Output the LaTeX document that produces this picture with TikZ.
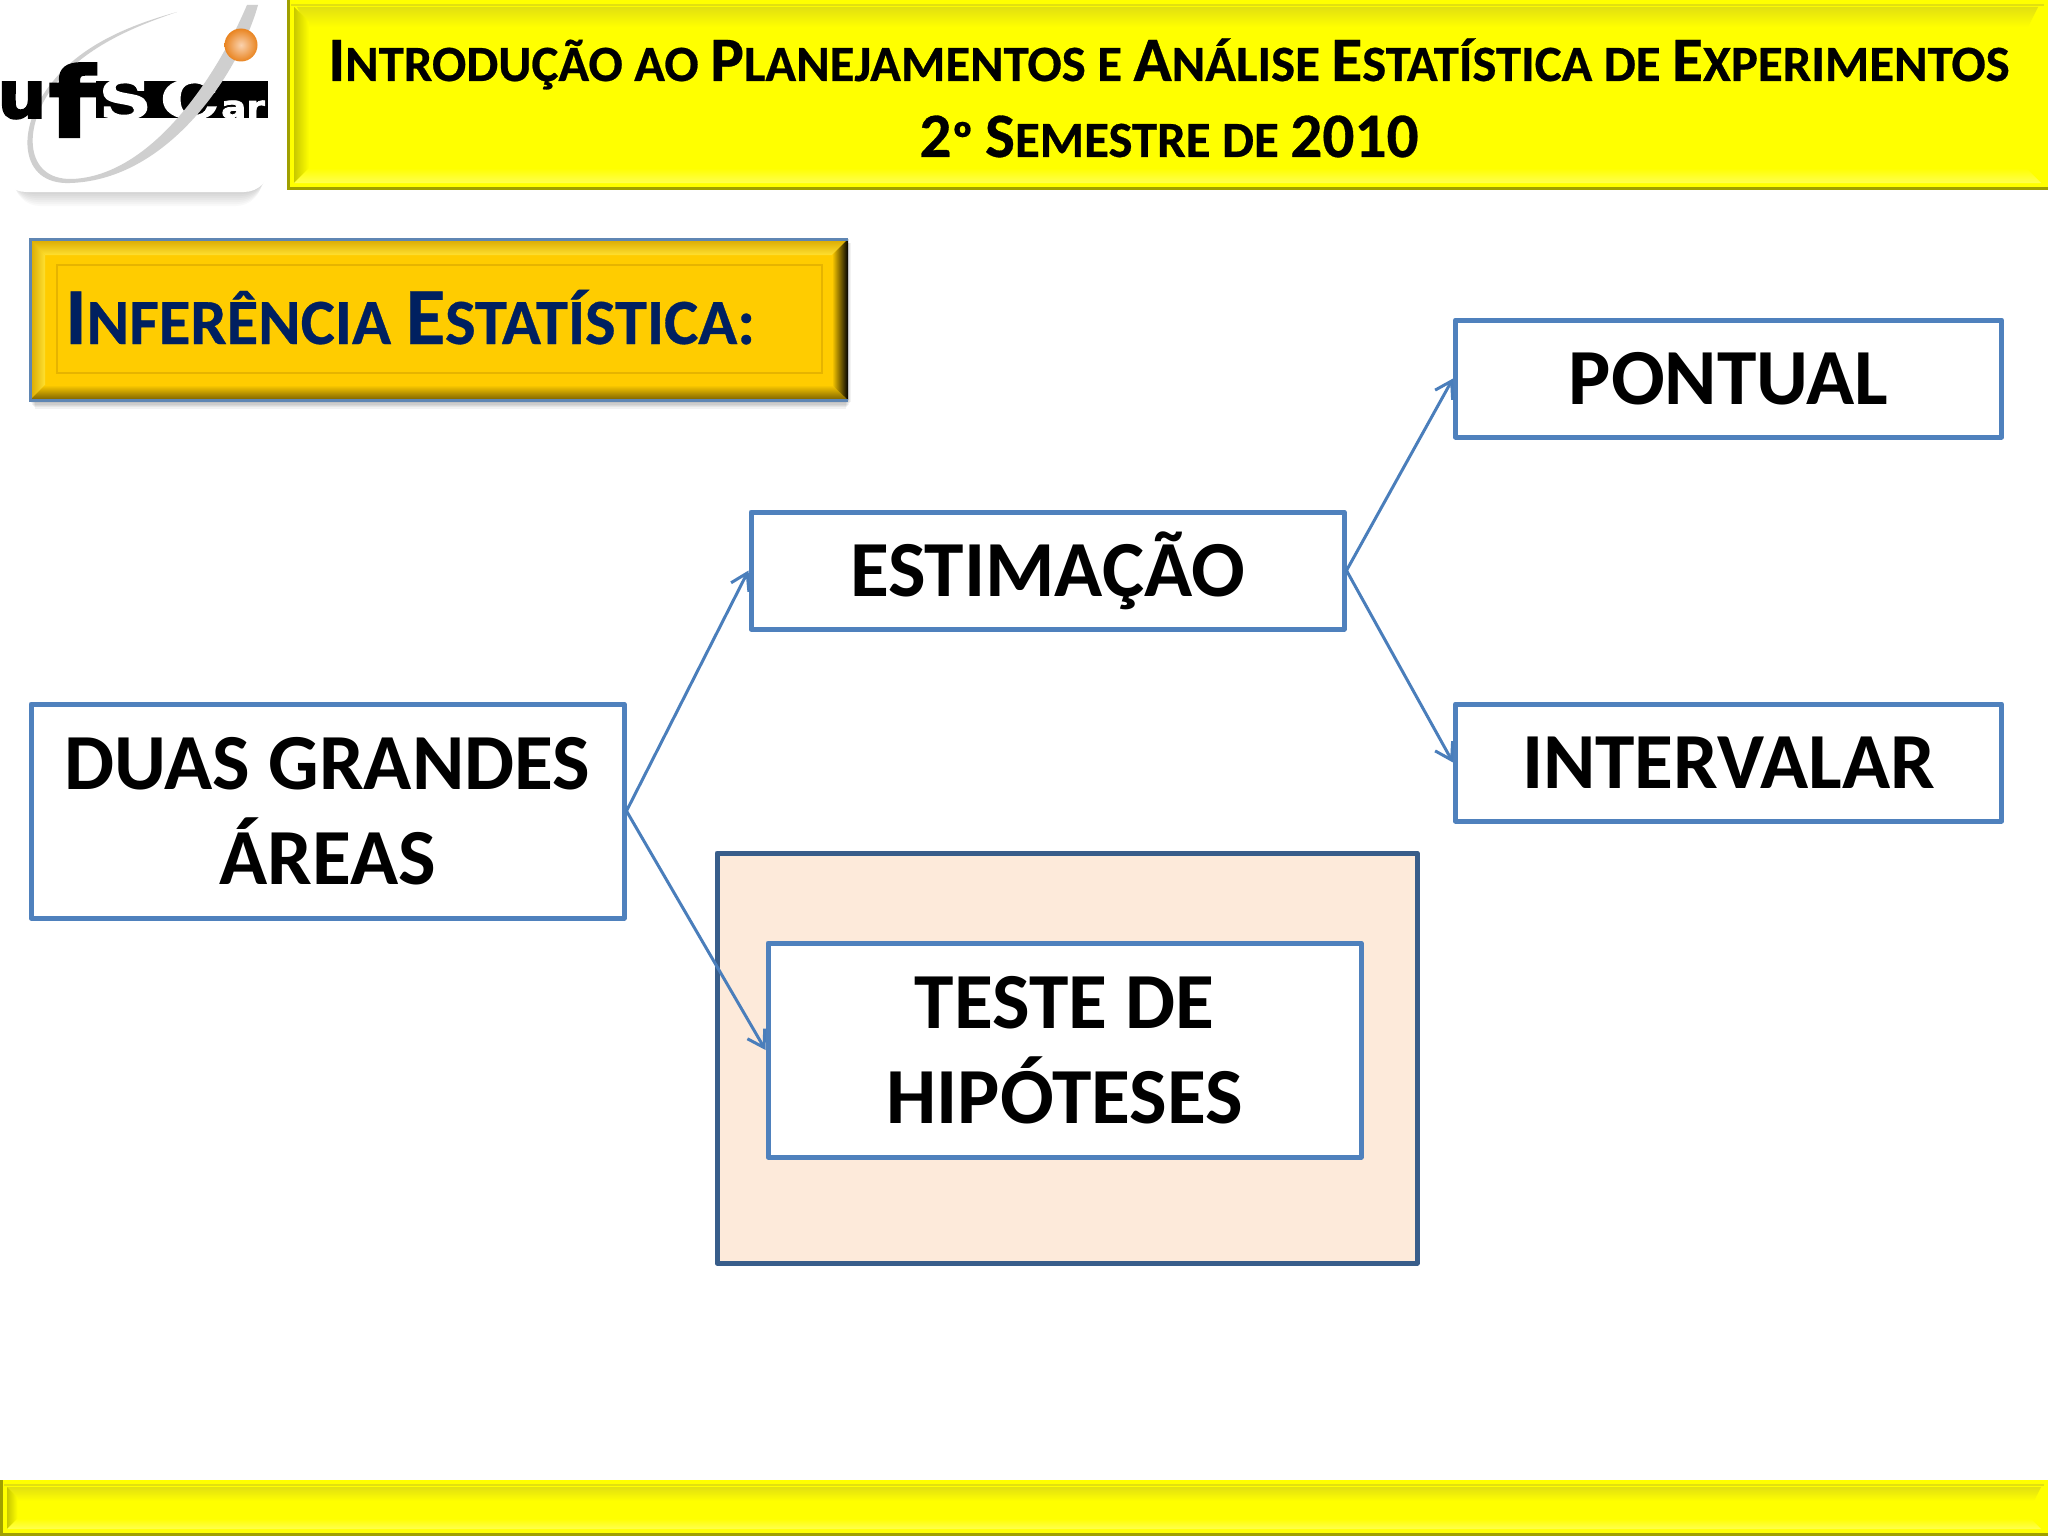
\documentclass[tikz,border=0pt]{standalone}
\usepackage{fontspec}
\usepackage{graphicx}
\usetikzlibrary{arrows.meta}
\setmainfont{Carlito}
\newfontfamily\heavy[FakeBold=0.5]{Carlito Bold}
\newfontfamily\logosans[FakeBold=2.5]{DejaVu Sans Bold}
\newfontfamily\logoserif[FakeBold=3.5]{DejaVu Serif Bold}
\definecolor{boxblue}{HTML}{4F81BD}
\definecolor{arrowblue}{HTML}{4A7EBB}
\definecolor{darkblue}{HTML}{385D8A}
\definecolor{beige}{HTML}{FDEADA}
\definecolor{gold}{HTML}{FFCC00}
\definecolor{goldlight}{HTML}{FFE030}
\definecolor{golddark}{HTML}{D9A800}
\definecolor{goldgroove}{HTML}{E6B400}
\definecolor{goldbrown}{HTML}{7A6000}
\definecolor{navy}{HTML}{002060}
\definecolor{rimgray}{HTML}{5F86B3}
\definecolor{yel}{HTML}{FFFF00}
\definecolor{yeldark}{HTML}{C8C800}
\definecolor{yelmid}{HTML}{E2E010}
\definecolor{yellight}{HTML}{FFFF50}
\definecolor{yelrim}{HTML}{A0A000}
\definecolor{swoosh}{HTML}{CFCFCF}
\definecolor{ballin}{HTML}{FAD2AE}
\definecolor{ballout}{HTML}{E98420}
\newcommand{\HB}[1]{{\fontsize{63.3}{63.3}\selectfont #1}}
\newcommand{\TB}[1]{{\fontsize{81}{81}\selectfont #1}}
\newcommand{\yellowbar}[5]{%
  \fill[yel] (#1,#2) rectangle (#3,#4);
  \shade[top color=yelmid,bottom color=yel] (#1+#5,#2+7) -- (#3-#5,#2+7) -- (#3-2*#5,#2+7+#5*2) -- (#1+2*#5,#2+7+#5*2) -- cycle;
  \shade[left color=yeldark,right color=yel] (#1+7,#2+7) -- (#1+7+#5*1.5,#2+7+#5*1.5) -- (#1+7+#5*1.5,#4-7-#5*1.5) -- (#1+7,#4-7) -- cycle;
  \shade[top color=yel,bottom color=yellight] (#1+7,#4-7) -- (#1+7+#5*1.5,#4-7-#5*1.5) -- (#3-7-#5*1.5,#4-7-#5*1.5) -- (#3-7,#4-7) -- cycle;
  \draw[yelmid,line width=2pt] (#1+4,#2+5) -- (#3-4,#2+5);
  \draw[yelrim,line width=3pt] (#1+1.5,#2) -- (#1+1.5,#4-1.5) -- (#3,#4-1.5);
}
\tikzset{
  x=1pt,y=-1pt,
  flowbox/.style={draw=boxblue,fill=white,line width=5pt,line join=round,inner sep=0pt,align=center,
    font=\fontsize{79.5}{95}\selectfont\bfseries,text=black},
  flowline/.style={draw=arrowblue,line width=3pt,-{Straight Barb[length=16pt,width=20pt,line width=3pt]}},
  headertext/.style={font=\fontsize{50.8}{50.8}\selectfont\heavy,text=black,inner sep=0pt,anchor=base},
  logotext/.style={inner sep=0pt,anchor=base},
}
\begin{document}
\begin{tikzpicture}
\useasboundingbox (0,0) rectangle (2048,1536);
\fill[white] (0,0) rectangle (2048,1536);

% logo card
\foreach \k in {0,...,6}{\fill[black,opacity=0.025,rounded corners=26pt] (8+\k,3) rectangle (268-\k,194+\k*2);}
\fill[white,rounded corners=26pt] (0,-2) rectangle (270,192);
\fill[black] (96,81) rectangle (268,118);
\node (logoS) [logotext,text=white,font=\fontsize{52}{52}\selectfont\logoserif] at (125,118) {\scalebox{1.35}[1]{S}};
\node (logoC) [logotext,text=white,font=\fontsize{52}{52}\selectfont\logoserif] at (190,118) {\scalebox{1.4}[1]{C}};
\node (logoAr) [logotext,text=white,font=\fontsize{31}{31}\selectfont\logosans] at (243,118) {\scalebox{1.2}[1]{ar}};
\fill[swoosh] (258,5) .. controls (240,70) and (170,180) .. (70,183) .. controls (20,185) and (15,130) .. (50,85) .. controls (80,45) and (130,25) .. (177,12) .. controls (130,28) and (84,48) .. (53,87) .. controls (22,128) and (25,180) .. (72,179) .. controls (150,176) and (215,80) .. (247,5) -- cycle;
\shade[inner color=ballin,outer color=ballout,shading=radial] (241,45) circle (16.5);
\node (logoU) [logotext,text=black,font=\fontsize{66}{66}\selectfont\logosans] at (22,118) {\scalebox{1.05}[1]{u}};
\node (logoF) [logotext,text=black,font=\fontsize{97}{97}\selectfont\logosans] at (72,137) {\scalebox{1.1}[1]{f}};

% header
\yellowbar{287}{0}{2048}{190}{10}
\node (headA) [headertext] at (1169,81) {\HB{I}NTRODUÇÃO AO \HB{P}LANEJAMENTOS E \HB{A}NÁLISE \HB{E}STATÍSTICA DE \HB{E}XPERIMENTOS};
\node (headB) [headertext] at (1169,157) {\HB{2}º \HB{S}EMESTRE DE \HB{2010}};

% footer
\yellowbar{0}{1480}{2048}{1536}{7}

% title panel
\foreach \k in {0,...,5}{\fill[black,opacity=0.05] (30+\k,243) rectangle (851-\k,402+\k*1.3);}
\fill[gold] (30,239) rectangle (848,400);
\shade[top color=golddark,bottom color=goldlight] (30,239) -- (848,239) -- (832,255) -- (45,255) -- cycle;
\shade[left color=golddark,right color=goldlight] (30,239) -- (45,255) -- (45,385) -- (30,400) -- cycle;
\shade[top color=gold,bottom color=goldbrown] (30,400) -- (45,385) -- (832,385) -- (848,400) -- cycle;
\shade[left color=gold,right color=black] (848,239) -- (832,255) -- (832,385) -- (848,400) -- cycle;
\draw[goldgroove,line width=2pt] (57,265) rectangle (822,373);
\draw[rimgray,line width=3pt] (848,239) -- (30,239) -- (30,400) -- (848,400);
\node (title) [anchor=base west,inner sep=0pt,text=navy,font=\fontsize{64.5}{64.5}\selectfont\heavy] at (65,344) {\TB{I}NFERÊNCIA \TB{E}STATÍSTICA:};

% flow
\draw[draw=darkblue,fill=beige,line width=5pt,line join=round] (717,853) rectangle (1417,1263);
\node (duas) [flowbox,minimum width=593pt,minimum height=214pt] at (327.5,811) {DUAS GRANDES\\ÁREAS};
\node (estim) [flowbox,minimum width=593pt,minimum height=117pt] at (1047.5,570.5) {ESTIMAÇÃO};
\node (teste) [flowbox,minimum width=593pt,minimum height=214pt] at (1064.5,1050) {TESTE DE\\HIPÓTESES};
\node (pont) [flowbox,minimum width=546pt,minimum height=117pt] at (1728.5,378.5) {PONTUAL};
\node (inter) [flowbox,minimum width=546pt,minimum height=117pt] at (1728.5,762.5) {INTERVALAR};
\draw[flowline] (duas.east) -- (estim.west);
\draw[flowline] (duas.east) -- (teste.west);
\draw[flowline] (estim.east) -- (pont.west);
\draw[flowline] (estim.east) -- (inter.west);
\end{tikzpicture}
\end{document}
